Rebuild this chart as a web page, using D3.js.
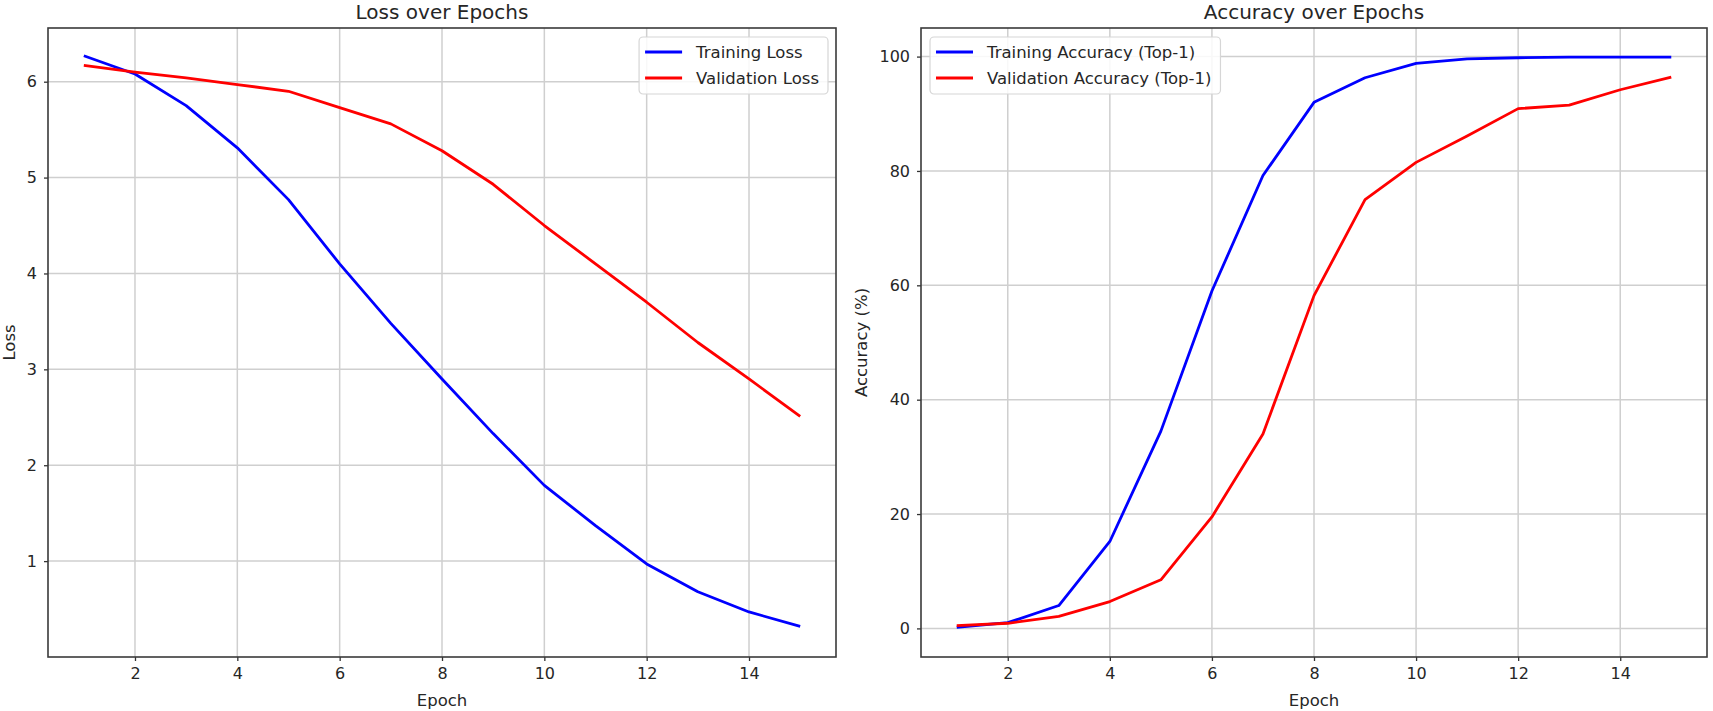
<!DOCTYPE html>
<html>
<head>
<meta charset="utf-8">
<script src="https://cdn.jsdelivr.net/npm/d3@7"></script>
<style>
  body { margin: 0; background: #fff; }
  text { font-family: 'DejaVu Sans', sans-serif; fill: #262626; }
</style>
</head>
<body>
<div class="chart"></div>
<script>
// values
const epochs = [1, 2, 3, 4, 5, 6, 7, 8, 9, 10, 11, 12, 13, 14, 15];
const trainLoss = [6.27, 6.08, 5.75, 5.31, 4.77, 4.10, 3.48, 2.90, 2.33, 1.79, 1.37, 0.97, 0.68, 0.47, 0.32];
const valLoss = [6.17, 6.10, 6.04, 5.97, 5.90, 5.73, 5.56, 5.28, 4.93, 4.50, 4.10, 3.70, 3.28, 2.90, 2.51];
const trainAcc = [0.2, 1.0, 4.0, 15.2, 34.5, 59.0, 79.2, 92.0, 96.3, 98.8, 99.6, 99.8, 99.9, 99.9, 99.9];
const valAcc = [0.5, 0.9, 2.1, 4.7, 8.5, 19.5, 34.0, 58.2, 75.0, 81.5, 86.1, 90.9, 91.5, 94.2, 96.4];
const epochTicks = [2, 4, 6, 8, 10, 12, 14];
const lossTicks = [1, 2, 3, 4, 5, 6];
const accTicks = [0, 20, 40, 60, 80, 100];

const width = 1713, height = 711;
const plotTop = 28, plotBottom = 657;

const svg = d3.select('.chart')
	.append('svg')
	.attr('width', width)
	.attr('height', height);

function drawPanel(p) {
	const g = svg.append('g');
	const x = d3.scaleLinear().domain([0.3, 15.7]).range([p.left, p.right]);
	const y = d3.scaleLinear().domain(p.yDomain).range([plotBottom, plotTop]);

	//grid
	g.selectAll('.vgrid').data(epochTicks).join('line')
		.attr('x1', d => x(d)).attr('x2', d => x(d))
		.attr('y1', plotTop).attr('y2', plotBottom)
		.style('stroke', '#cfcfcf').style('stroke-width', '1.5px');
	g.selectAll('.hgrid').data(p.yTicks).join('line')
		.attr('x1', p.left).attr('x2', p.right)
		.attr('y1', d => y(d)).attr('y2', d => y(d))
		.style('stroke', '#cfcfcf').style('stroke-width', '1.5px');

	//lines
	const line = d3.line().x((d, i) => x(epochs[i])).y(d => y(d));
	p.series.forEach(s => {
		g.append('path')
			.datum(s.values)
			.attr('d', line)
			.style('fill', 'none')
			.style('stroke', s.color)
			.style('stroke-width', '2.8px')
			.style('stroke-linejoin', 'round');
	});

	//axes
	const xAxis = g.append('g')
		.attr('transform', `translate(0,${plotBottom})`)
		.call(d3.axisBottom(x).tickValues(epochTicks).tickFormat(d3.format('d')).tickSize(4).tickPadding(7));
	const yAxis = g.append('g')
		.attr('transform', `translate(${p.left},0)`)
		.call(d3.axisLeft(y).tickValues(p.yTicks).tickFormat(d3.format('d')).tickSize(4).tickPadding(7));
	[xAxis, yAxis].forEach(a => {
		a.select('.domain').remove();
		a.selectAll('line').style('stroke', '#333').style('stroke-width', '1.3px');
		a.selectAll('text')
			.style('font-size', '16px')
			.style('font-family', "'DejaVu Sans', sans-serif")
			.style('fill', '#262626');
	});

	//frame
	g.append('rect')
		.attr('x', p.left).attr('y', plotTop)
		.attr('width', p.right - p.left).attr('height', plotBottom - plotTop)
		.style('fill', 'none').style('stroke', '#3a3a3a').style('stroke-width', '1.6px');

	//labels
	g.append('text')
		.attr('x', (p.left + p.right) / 2).attr('y', 19)
		.attr('text-anchor', 'middle')
		.style('font-size', '20px')
		.text(p.title);
	g.append('text')
		.attr('x', (p.left + p.right) / 2).attr('y', 706)
		.attr('text-anchor', 'middle')
		.style('font-size', '16.5px')
		.text('Epoch');
	g.append('text')
		.attr('transform', `translate(${p.yLabelX},${(plotTop + plotBottom) / 2}) rotate(-90)`)
		.attr('text-anchor', 'middle')
		.attr('dy', '0.35em')
		.style('font-size', '16.5px')
		.text(p.yLabel);

	//legend
	const lg = g.append('g');
	const box = lg.append('rect')
		.attr('rx', 4).attr('ry', 4)
		.style('fill', 'rgba(255,255,255,0.85)')
		.style('stroke', '#d6d6d6').style('stroke-width', '1.2px');
	let maxW = 0;
	p.series.forEach((s, i) => {
		const yy = 52 + i * 26;
		lg.append('line')
			.attr('x1', 6).attr('x2', 43)
			.attr('y1', yy).attr('y2', yy)
			.style('stroke', s.color).style('stroke-width', '2.8px');
		const t = lg.append('text')
			.attr('x', 57).attr('y', yy).attr('dy', '0.35em')
			.style('font-size', '16.5px')
			.text(s.name);
		maxW = Math.max(maxW, t.node().getComputedTextLength());
	});
	const boxW = 57 + maxW + 9;
	box.attr('x', 0).attr('y', 37).attr('width', boxW).attr('height', 57);
	const lx = p.legendRight ? p.right - 8 - boxW : p.left + 9;
	lg.attr('transform', `translate(${lx},0)`);
}

drawPanel({
	left: 48, right: 836,
	yDomain: [0.0, 6.56], yTicks: lossTicks,
	title: 'Loss over Epochs', yLabel: 'Loss', yLabelX: 9,
	legendRight: true,
	series: [
		{name: 'Training Loss', values: trainLoss, color: 'blue'},
		{name: 'Validation Loss', values: valLoss, color: 'red'}
	]
});

drawPanel({
	left: 921, right: 1707,
	yDomain: [-5, 105], yTicks: accTicks,
	title: 'Accuracy over Epochs', yLabel: 'Accuracy (%)', yLabelX: 861,
	legendRight: false,
	series: [
		{name: 'Training Accuracy (Top-1)', values: trainAcc, color: 'blue'},
		{name: 'Validation Accuracy (Top-1)', values: valAcc, color: 'red'}
	]
});
</script>
</body>
</html>
